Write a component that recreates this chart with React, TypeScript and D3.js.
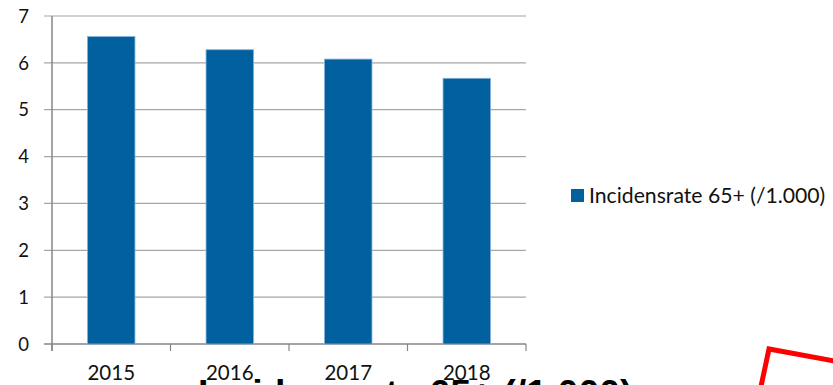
import React from "react";
import * as d3 from "d3";

const categories = ["2015", "2016", "2017", "2018"];
const values = [6.56, 6.28, 6.08, 5.67];
const yTicks = [0, 1, 2, 3, 4, 5, 6, 7];
const seriesName = "Incidensrate 65+ (/1.000)";
const titleText = "Incidensrate 65+ (/1.000)";

const W = 833;
const H = 385;
const plot = { left: 52, right: 526, top: 16, bottom: 344 };
const barColor = "#00619e";
const font = "Lato, 'Open Sans', sans-serif";

export default function App() {
  const x = d3
    .scaleBand<string>()
    .domain(categories)
    .range([plot.left, plot.right])
    .paddingInner(0.6)
    .paddingOuter(0.3);
  const xOuter = d3.scaleBand<string>().domain(categories).range([plot.left, plot.right]);
  const y = d3.scaleLinear().domain([0, 7]).range([plot.bottom, plot.top]);

  const xTickPos = categories.map((c) => xOuter(c)!).concat([plot.right]);

  return (
    <svg
      width={W}
      height={H}
      style={{ position: "absolute", left: 0, top: 0, background: "#fff" }}
    >
      {/* gridlines */}
      {yTicks.map((t) => (
        <line
          key={"g" + t}
          x1={plot.left - 8}
          x2={plot.right}
          y1={y(t)}
          y2={y(t)}
          stroke={t === 0 ? "#868686" : "#a6a6a6"}
          strokeWidth={t === 0 ? 1.5 : 1.2}
        />
      ))}
      {/* y axis */}
      <line x1={plot.left} x2={plot.left} y1={plot.top} y2={plot.bottom + 7} stroke="#868686" strokeWidth={1.5} />
      {/* x ticks */}
      {xTickPos.map((p, i) => (
        <line key={"xt" + i} x1={p} x2={p} y1={plot.bottom} y2={plot.bottom + 7} stroke="#868686" strokeWidth={1.2} />
      ))}
      {/* bars */}
      {categories.map((c, i) => (
        <rect
          key={c}
          x={x(c)}
          y={y(values[i])}
          width={x.bandwidth()}
          height={y(0) - y(values[i])}
          fill={barColor}
          stroke="#7fb0da"
          strokeWidth={0.8}
        />
      ))}
      {/* y labels */}
      {yTicks.map((t) => (
        <text
          key={"yl" + t}
          x={29}
          y={y(t)}
          dy="0.36em"
          textAnchor="end"
          fontFamily={font}
          fontSize={18.5}
          fill="#111"
        >
          {t}
        </text>
      ))}
      {/* title (partially cut off at the bottom edge) */}
      <text
        x={198}
        y={406}
        textAnchor="start"
        fontFamily="'Liberation Sans', Arial, sans-serif"
        fontWeight="bold"
        fontSize={37.5}
        fill="#000"
      >
        {titleText}
      </text>
      {/* x labels */}
      {categories.map((c) => (
        <text
          key={"xl" + c}
          x={xOuter(c)! + xOuter.bandwidth() / 2}
          y={380}
          textAnchor="middle"
          fontFamily={font}
          fontSize={20.5}
          fill="#111"
        >
          {c}
        </text>
      ))}
      {/* legend */}
      <rect x={571} y={189} width={13} height={13} fill={barColor} />
      <text x={589} y={195.5} dy="0.36em" fontFamily={font} fontSize={21.2} fill="#111">
        {seriesName}
      </text>
      {/* red annotation shape */}
      <path
        d="M757,405 L769,349 L840,362"
        fill="none"
        stroke="#ff0000"
        strokeWidth={5}
      />
    </svg>
  );
}
